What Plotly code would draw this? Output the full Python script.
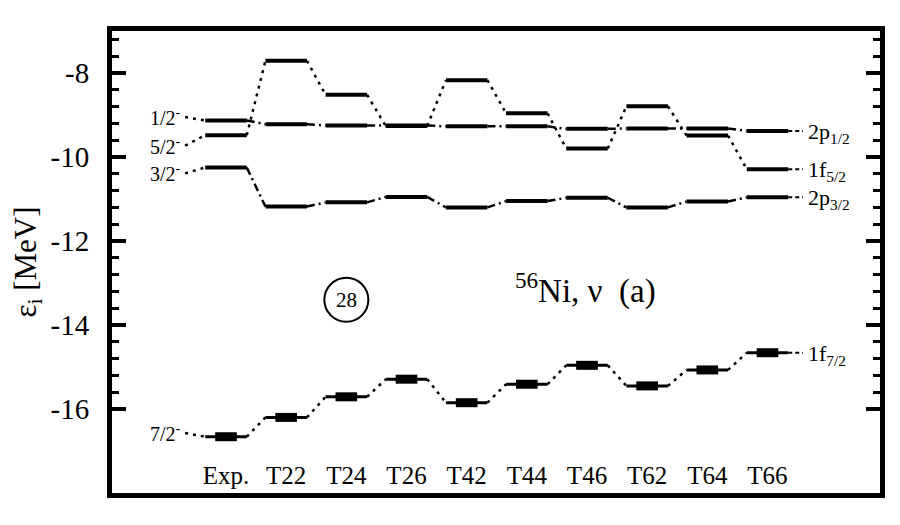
# Single-particle neutron levels of 56Ni: experiment vs. tensor-force parametrisations
import numpy as np
import plotly.graph_objects as go

# Columns (experiment + parameter sets)
columns = ['Exp.', 'T22', 'T24', 'T26', 'T42', 'T44', 'T46', 'T62', 'T64', 'T66']

# Level energies eps_i [MeV]
p12 = [-9.13, -9.22, -9.25, -9.25, -9.27, -9.27, -9.33, -9.32, -9.32, -9.38]
f52 = [-9.48, -7.71, -8.52, -9.26, -8.17, -8.96, -9.80, -8.79, -9.49, -10.29]
p32 = [-10.25, -11.18, -11.08, -10.95, -11.20, -11.05, -10.97, -11.20, -11.06, -10.96]
f72 = [-16.66, -16.20, -15.71, -15.29, -15.85, -15.41, -14.96, -15.45, -15.07, -14.66]

y_ticks = [-16, -14, -12, -10, -8]
y_ticktext = ['-16', '-14', '-12', '-10', '-8']

exp_labels = ['1/2<sup>-</sup>', '5/2<sup>-</sup>', '3/2<sup>-</sup>', '7/2<sup>-</sup>']
orbit_labels = ['2p<sub>1/2</sub>', '1f<sub>5/2</sub>', '2p<sub>3/2</sub>', '1f<sub>7/2</sub>']

FONT = 'Liberation Serif'
HALF = 0.345      # half width of a level bar (column units)
CORE = 0.18       # half width of the thick 1f7/2 core
DOT = '3px,5px'
DASHDOT = '8px,4px,2px,4px'

# offsets of the left-hand labels relative to their level (so they don't collide)
left_shift = [0.08, -0.25, -0.14, 0.09]
left_x, right_x = -0.68, 9.59


def bars(vals, half):
    xs, ys = [], []
    for i, v in enumerate(vals):
        xs += [i - half, i + half, None]
        ys += [v, v, None]
    return xs, ys


def links(vals):
    xs, ys = [], []
    for i in range(len(vals) - 1):
        xs += [i + HALF, i + 1 - HALF, None]
        ys += [vals[i], vals[i + 1], None]
    return xs, ys


fig = go.Figure()

series = [(p12, DASHDOT), (f52, DOT), (p32, DASHDOT), (f72, DOT)]
for k, (vals, link_dash) in enumerate(series):
    # connectors between columns
    lx, ly = links(vals)
    fig.add_trace(go.Scatter(x=lx, y=ly, mode='lines',
                             line=dict(color='black', width=2.5, dash=link_dash),
                             hoverinfo='skip', showlegend=False))
    # connector from the experimental label to the Exp. bar
    fig.add_trace(go.Scatter(x=[left_x, -HALF], y=[vals[0] + left_shift[k], vals[0]],
                             mode='lines', line=dict(color='black', width=2.5, dash=DOT),
                             hoverinfo='skip', showlegend=False))
    # connector from last bar to orbital name
    fig.add_trace(go.Scatter(x=[len(vals) - 1 + HALF, right_x], y=[vals[-1], vals[-1]],
                             mode='lines', line=dict(color='black', width=2, dash='4px,3px'),
                             hoverinfo='skip', showlegend=False))
    # level bars
    bx, by = bars(vals, HALF)
    fig.add_trace(go.Scatter(x=bx, y=by, mode='lines',
                             line=dict(color='black', width=4 if k < 3 else 3),
                             hoverinfo='skip', showlegend=False))
    if k == 3:
        cx, cy = bars(vals, CORE)
        fig.add_trace(go.Scatter(x=cx, y=cy, mode='lines',
                                 line=dict(color='black', width=9),
                                 hoverinfo='skip', showlegend=False))

    fig.add_annotation(x=left_x, y=vals[0] + left_shift[k], xref='x', yref='y',
                       text=exp_labels[k], showarrow=False, xanchor='right', xshift=-2,
                       font=dict(family=FONT, size=20, color='black'))
    fig.add_annotation(x=right_x, y=vals[-1], xref='x', yref='y',
                       text=orbit_labels[k], showarrow=False, xanchor='left', xshift=3,
                       yshift=-2, font=dict(family=FONT, size=22, color='black'))

# magic number and title inside the frame
fig.add_shape(type='circle', xref='x', yref='y', xsizemode='pixel', ysizemode='pixel',
              xanchor=2, yanchor=-13.4, x0=-22, x1=22, y0=-22, y1=22,
              line=dict(color='black', width=2))
fig.add_annotation(x=2, y=-13.4, xref='x', yref='y', text='28', showarrow=False,
                   font=dict(family=FONT, size=21, color='black'))
fig.add_annotation(x=5.97, y=-13.12, xref='x', yref='y',
                   text='<sup>56</sup>Ni, \u03bd  (a)', showarrow=False,
                   font=dict(family=FONT, size=33, color='black'))

minor_vals = [v for v in np.arange(-16.0, -6.9, 0.4) if abs(v / 2 - round(v / 2)) > 1e-6]

# the page body adds 8px offset, so margins are trimmed accordingly
fig.update_layout(
    width=900, height=525,
    margin=dict(l=104, r=28, t=23, b=40),
    paper_bgcolor='white', plot_bgcolor='white',
    font=dict(family=FONT, color='black'),
    xaxis=dict(range=[-1.895, 10.87], tickvals=list(range(len(columns))), ticktext=columns,
               ticks='', ticklabelposition='inside', ticklabelstandoff=6,
               tickfont=dict(family=FONT, size=25, color='black'),
               showgrid=False, zeroline=False,
               showline=True, linewidth=5, linecolor='black', mirror=True),
    yaxis=dict(range=[-18, -7], tickvals=y_ticks, ticktext=y_ticktext,
               ticks='inside', ticklen=14, tickwidth=4, tickcolor='black',
               ticklabelstandoff=12,
               tickfont=dict(family=FONT, size=29, color='black'),
               minor=dict(tickvals=minor_vals, ticks='inside', ticklen=7, tickwidth=3,
                          tickcolor='black'),
               showgrid=False, zeroline=False,
               showline=True, linewidth=5, linecolor='black', mirror='allticks',
               title=dict(text='\u03b5<sub>i</sub> [MeV]', standoff=9,
                          font=dict(family=FONT, size=31, color='black'))),
)

fig.write_html("out.html")
